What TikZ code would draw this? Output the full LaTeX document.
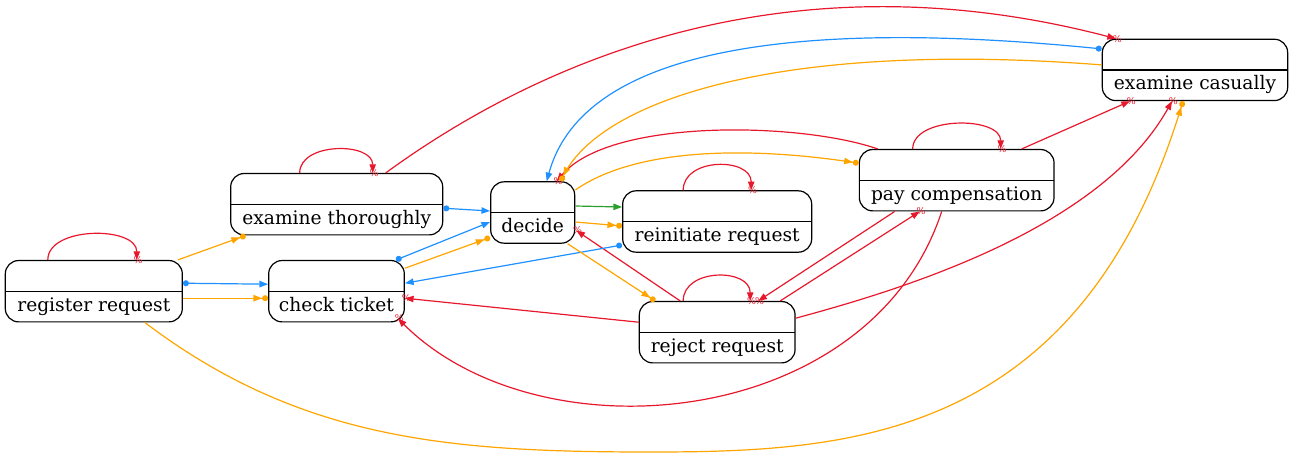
\documentclass[tikz,border=0pt]{standalone}
\usepackage{fontspec}
\setmainfont{DejaVu Serif}
\usepackage{tikz}
\usetikzlibrary{arrows.meta,calc}
\definecolor{arcred}{RGB}{232,24,44}
\definecolor{arcblue}{RGB}{30,144,255}
\definecolor{arcorange}{RGB}{255,165,0}
\definecolor{arcgreen}{RGB}{44,160,44}

\begin{document}
\begin{tikzpicture}
  [x=0.75pt,y=-0.75pt,
   state/.style={draw,line width=0.9pt,rounded corners=10pt,minimum height=46pt,
     inner sep=2pt,text height=29.7pt,text depth=0pt,font=\fontsize{14}{16}\selectfont,
     path picture={\draw[line width=0.9pt] (path picture bounding box.west) -- (path picture bounding box.east);}},
   redarc/.style={draw=arcred,line width=0.9pt,-{Triangle[length=6.5pt,width=4.8pt]}},
   pct/.style={text=arcred,font=\fontsize{7}{7}\selectfont,inner sep=0pt,xshift=1pt},
   bluearc/.style={draw=arcblue,line width=0.9pt,{Circle[length=4.5pt]}-{Triangle[length=6.5pt,width=4.8pt]}},
   orangearc/.style={draw=arcorange,line width=0.9pt,-{Triangle[length=6.5pt,width=4.8pt] Circle[length=4.5pt]}},
   greenarc/.style={draw=arcgreen,line width=0.9pt,-{Triangle[length=6.5pt,width=4.8pt]}}]
  \useasboundingbox (0,0) rectangle (1293,458);

  \node[state,minimum width=132.75pt] (rr) at (93.8,291.2)  {register request};
  \node[state,minimum width=159pt]    (et) at (336.7,204.2) {examine thoroughly};
  \node[state,minimum width=101.7pt]  (ct) at (336.5,291.2) {check ticket};
  \node[state,minimum width=63pt]     (de) at (532.7,212.5) {decide};
  \node[state,minimum width=141.75pt] (ri) at (717.2,221.5) {reinitiate request};
  \node[state,minimum width=116.8pt]  (rj) at (717.2,332.2) {reject request};
  \node[state,minimum width=146pt]    (pc) at (956.7,180.2) {pay compensation};
  \node[state,minimum width=139pt]    (ec) at (1195,69.9)   {examine casually};

  % self loops
  \foreach \n/\a/\b/\h in {rr/-46/43/34,et/-37/36/31,ri/-34/34/33,rj/-34/33/33,pc/-44/44/33}
    \draw[redarc] ($(\n.north)+(\a,0)$) .. controls +(0,-\h) and +(0,-\h) .. ($(\n.north)+(\b,0)$) node[pct,pos=1] {\%};

  \draw[redarc] ($(et.north)+(49,0)$) .. controls (520,75) and (770,-52) .. ($(ec.north)+(-79,0)$) node[pct,pos=1] {\%};
  \draw[redarc] ($(pc.north)+(-79,0)$) .. controls (800,122) and (610,118) .. ($(de.north)+(24,0)$) node[pct,pos=1] {\%};
  \draw[redarc] ($(pc.north)+(65,0)$) -- ($(ec.south)+(-65,0)$) node[pct,pos=1] {\%};
  \draw[redarc] ($(rj.east)+(0,-14)$) .. controls (900,290) and (1100,230) .. ($(ec.south)+(-23,0)$) node[pct,pos=1] {\%};
  \draw[redarc] ($(rj.north)+(63,0)$) -- ($(pc.south)+(-37,0)$) node[pct,pos=1] {\%};
  \draw[redarc] ($(pc.south)+(-62,0)$) -- ($(rj.north)+(41,0)$) node[pct,pos=1] {\%};
  \draw[redarc] ($(rj.north)+(-37,0)$) -- ($(de.east)+(1,18)$) node[pct,pos=1] {\%};
  \draw[redarc] ($(rj.west)+(0,-10)$) -- ($(ct.east)+(0,7)$) node[pct,pos=1] {\%};
  \draw[redarc] ($(pc.south)+(-15,0)$) .. controls (870,430) and (540,460) .. ($(ct.south east)+(-7,-4)$) node[pct,pos=1] {\%};

  \draw[bluearc] ($(rr.east)+(0,-8)$) -- ($(ct.west)+(0,-7)$);
  \draw[bluearc] ($(et.east)+(0,4)$) -- ($(de.west)+(0,-1.5)$);
  \draw[bluearc] ($(ct.north)+(59.5,0)$) -- ($(de.west)+(0,9.5)$);
  \draw[bluearc] ($(ri.west)+(0,23.5)$) -- ($(ct.east)+(0,-8)$);
  \draw[bluearc] ($(ec.west)+(0,-21)$) .. controls (760,15) and (580,60) .. ($(de.north)+(14,0)$);

  \draw[orangearc] ($(rr.north)+(84,0)$) -- ($(et.south)+(-91,0)$);
  \draw[orangearc] ($(rr.east)+(0,7)$) -- ($(ct.west)+(0,7)$);
  \draw[orangearc] ($(ct.east)+(0,-23)$) -- ($(de.west)+(0,25)$);
  \draw[orangearc] ($(ec.west)+(0,-5)$) .. controls (780,40) and (600,100) .. ($(de.north)+(28,0)$);
  \draw[orangearc] ($(de.east)+(0,-22.5)$) .. controls (640,145) and (760,148) .. ($(pc.west)+(0,-17)$);
  \draw[orangearc] ($(de.east)+(0,9.5)$) -- ($(ri.west)+(0,4.5)$);
  \draw[orangearc] ($(de.south)+(35,0)$) -- ($(rj.north)+(-62,0)$);
  \draw[orangearc] ($(rr.south)+(51,0)$) .. controls (300,440) and (450,452) .. (650,452)
    .. controls (850,452) and (1080,440) .. ($(ec.south)+(-12,0)$);

  \draw[greenarc] ($(de.east)+(0,-6.5)$) -- ($(ri.west)+(0,-14.5)$);
\end{tikzpicture}
\end{document}
